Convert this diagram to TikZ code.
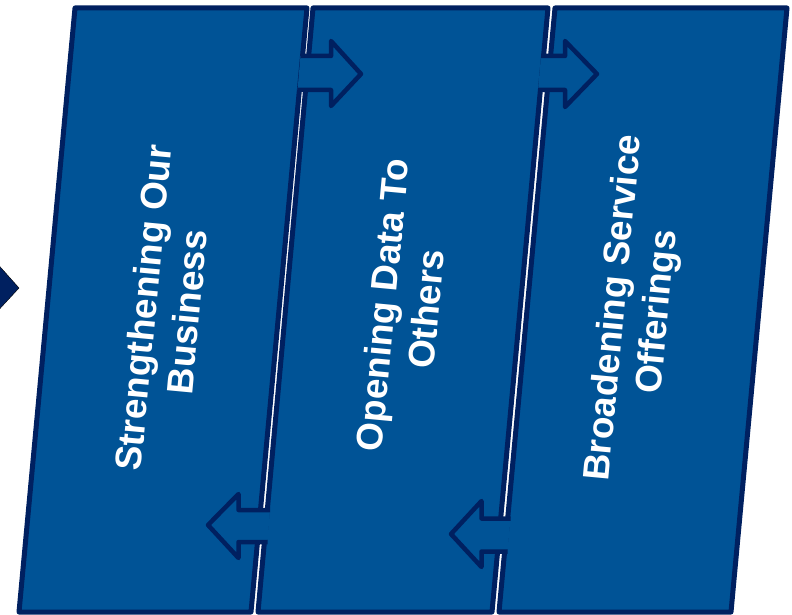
\documentclass[tikz,border=0pt]{standalone}
\usepackage{fontspec}
\setmainfont{Liberation Sans}
\usepackage{tikz}
\usetikzlibrary{arrows}
\definecolor{stageblue}{RGB}{0,83,150}
\definecolor{stageline}{RGB}{0,32,96}

\begin{document}
\begin{tikzpicture}[x=1pt, y=-1pt, line join=round,
		stage/.style={fill=stageblue, draw=stageline, line width=5pt},
		flow/.style={fill=stageblue, draw=stageline, line width=4.5pt},
		lbl/.style={text=white, font=\fontsize{37}{44}\selectfont\bfseries, align=center, rotate=84.6}]
	\useasboundingbox (0,0) rectangle (792,615);

	% incoming arrow tip, cut by the left margin
	\filldraw[fill=stageline, draw=black, thin] (-6,260) -- (19,288) -- (-6,315) -- cycle;

	% the three stages
	\draw[stage] (75,8)  -- (307,8) -- (251,612) -- (19,612)  -- cycle;
	\draw[stage] (313,8) -- (548,8) -- (492,612) -- (258,612) -- cycle;
	\draw[stage] (555,8) -- (787,8) -- (731,612) -- (499,612) -- cycle;

	% forward arrows (top), open at the tail
	\path[flow] (300.5,56) -- (331,56) -- (331,41) -- (361,74) -- (331,106) -- (331,90) -- (297.5,90);
	\path[flow] (541,56)   -- (565,56) -- (565,41) -- (597,74) -- (565,107) -- (565,90) -- (538,90);
	% backward arrows (bottom)
	\path[flow] (270,510)   -- (238.5,510) -- (238.5,494) -- (208,525) -- (238.5,558) -- (238.5,542) -- (267.5,542);
	\path[flow] (510.5,518.5) -- (481.5,518.5) -- (481.5,501) -- (451,534) -- (481.5,567) -- (481.5,551.5) -- (507.5,551.5);

	\node[lbl] (BUS)  at (165,310) {Strengthening Our\\Business};
	\node[lbl] (DATA) at (404,307) {Opening Data To\\Others};
	\node[lbl] (SERV) at (637,310) {Broadening Service\\Offerings};
\end{tikzpicture}
\end{document}
